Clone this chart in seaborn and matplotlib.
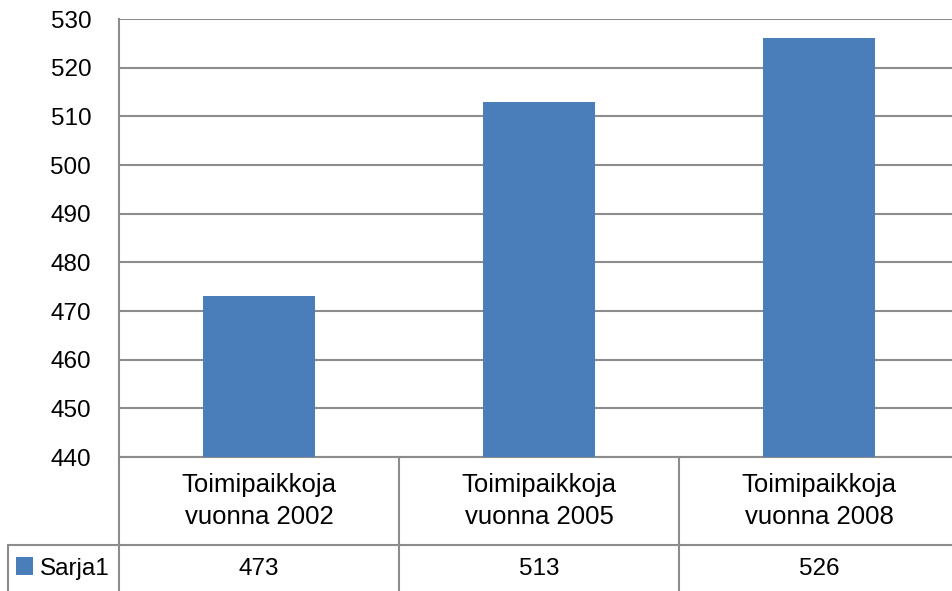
import matplotlib
matplotlib.use("Agg")
import matplotlib.pyplot as plt
import matplotlib.transforms as mtransforms
from matplotlib.lines import Line2D
from matplotlib.patches import Rectangle
import seaborn as sns
import pandas as pd

categories = ["Toimipaikkoja\nvuonna 2002", "Toimipaikkoja\nvuonna 2005", "Toimipaikkoja\nvuonna 2008"]
values = [473, 513, 526]
series_name = "Sarja1"
yticks = [440, 450, 460, 470, 480, 490, 500, 510, 520, 530]

sns.set_theme(style="white")
plt.rcParams["font.family"] = ["Liberation Sans", "DejaVu Sans"]

W, H = 952, 591
fig = plt.figure(figsize=(W / 100, H / 100), dpi=100)
fig.patch.set_facecolor("white")

# axes in pixel coords: x 119..959, y 19..457
left, right, top, bottom = 119, 959, 19, 457
ax = fig.add_axes([left / W, 1 - bottom / H, (right - left) / W, (bottom - top) / H])

df = pd.DataFrame({"cat": categories, "val": values})
bar_color = "#4A7EBB"
sns.barplot(data=df, x="cat", y="val", color=bar_color, width=0.4,
            saturation=1, ax=ax, zorder=3, linewidth=0, edgecolor="none")
ax.set_xlim(-0.5, 2.5)
ax.set_ylim(440, 530)
ax.set_yticks(yticks)
ax.set_yticklabels([str(t) for t in yticks], fontsize=17.5, color="black")
ax.tick_params(axis="y", length=0, pad=20)
ax.set_xticks([])
ax.set_xlabel("")
ax.set_ylabel("")
grid_c = "#8C8C8C"
ax.yaxis.grid(True, color=grid_c, linewidth=1.5, zorder=0)
ax.set_axisbelow(True)
for s in ["top", "right"]:
    ax.spines[s].set_visible(False)
ax.spines["left"].set_color(grid_c)
ax.spines["left"].set_linewidth(1.5)
ax.spines["bottom"].set_color(grid_c)
ax.spines["bottom"].set_linewidth(1.5)

# data table below the axes
trans = mtransforms.blended_transform_factory(ax.transData, ax.transAxes)
ppx = bottom - top  # pixels per axes unit
def ay(py):
    return -(py - bottom) / ppx

row1 = ay(545)
row_end = ay(640)
n = len(categories)
for i in range(n + 1):
    x = -0.5 + i
    ax.add_line(Line2D([x, x], [0, row_end], transform=trans, color=grid_c,
                       linewidth=1.5, clip_on=False))
x_left = -0.5 - 111 / 280
ax.add_line(Line2D([x_left, n + 0.5], [row1, row1], transform=trans, color=grid_c,
                   linewidth=1.5, clip_on=False))
ax.add_line(Line2D([x_left, x_left], [row1, row_end], transform=trans, color=grid_c,
                   linewidth=1.5, clip_on=False))

for i, (c, v) in enumerate(zip(categories, values)):
    ax.text(i, ay(501), c, transform=trans, ha="center", va="center",
            fontsize=18.5, linespacing=1.38, color="black", clip_on=False)
    ax.text(i, ay(569), str(v), transform=trans, ha="center", va="center",
            fontsize=17.5, color="black", clip_on=False)

# legend key in table
ax.add_patch(Rectangle((-0.5 - 103 / 280, ay(575)), 17 / 280, 18 / ppx,
                       transform=trans, facecolor=bar_color, edgecolor="none",
                       clip_on=False))
ax.text(-0.5 - 79 / 280, ay(569), series_name, transform=trans, ha="left",
        va="center", fontsize=17.5, color="black", clip_on=False)

fig.savefig("out.png", dpi=100, facecolor="white")
